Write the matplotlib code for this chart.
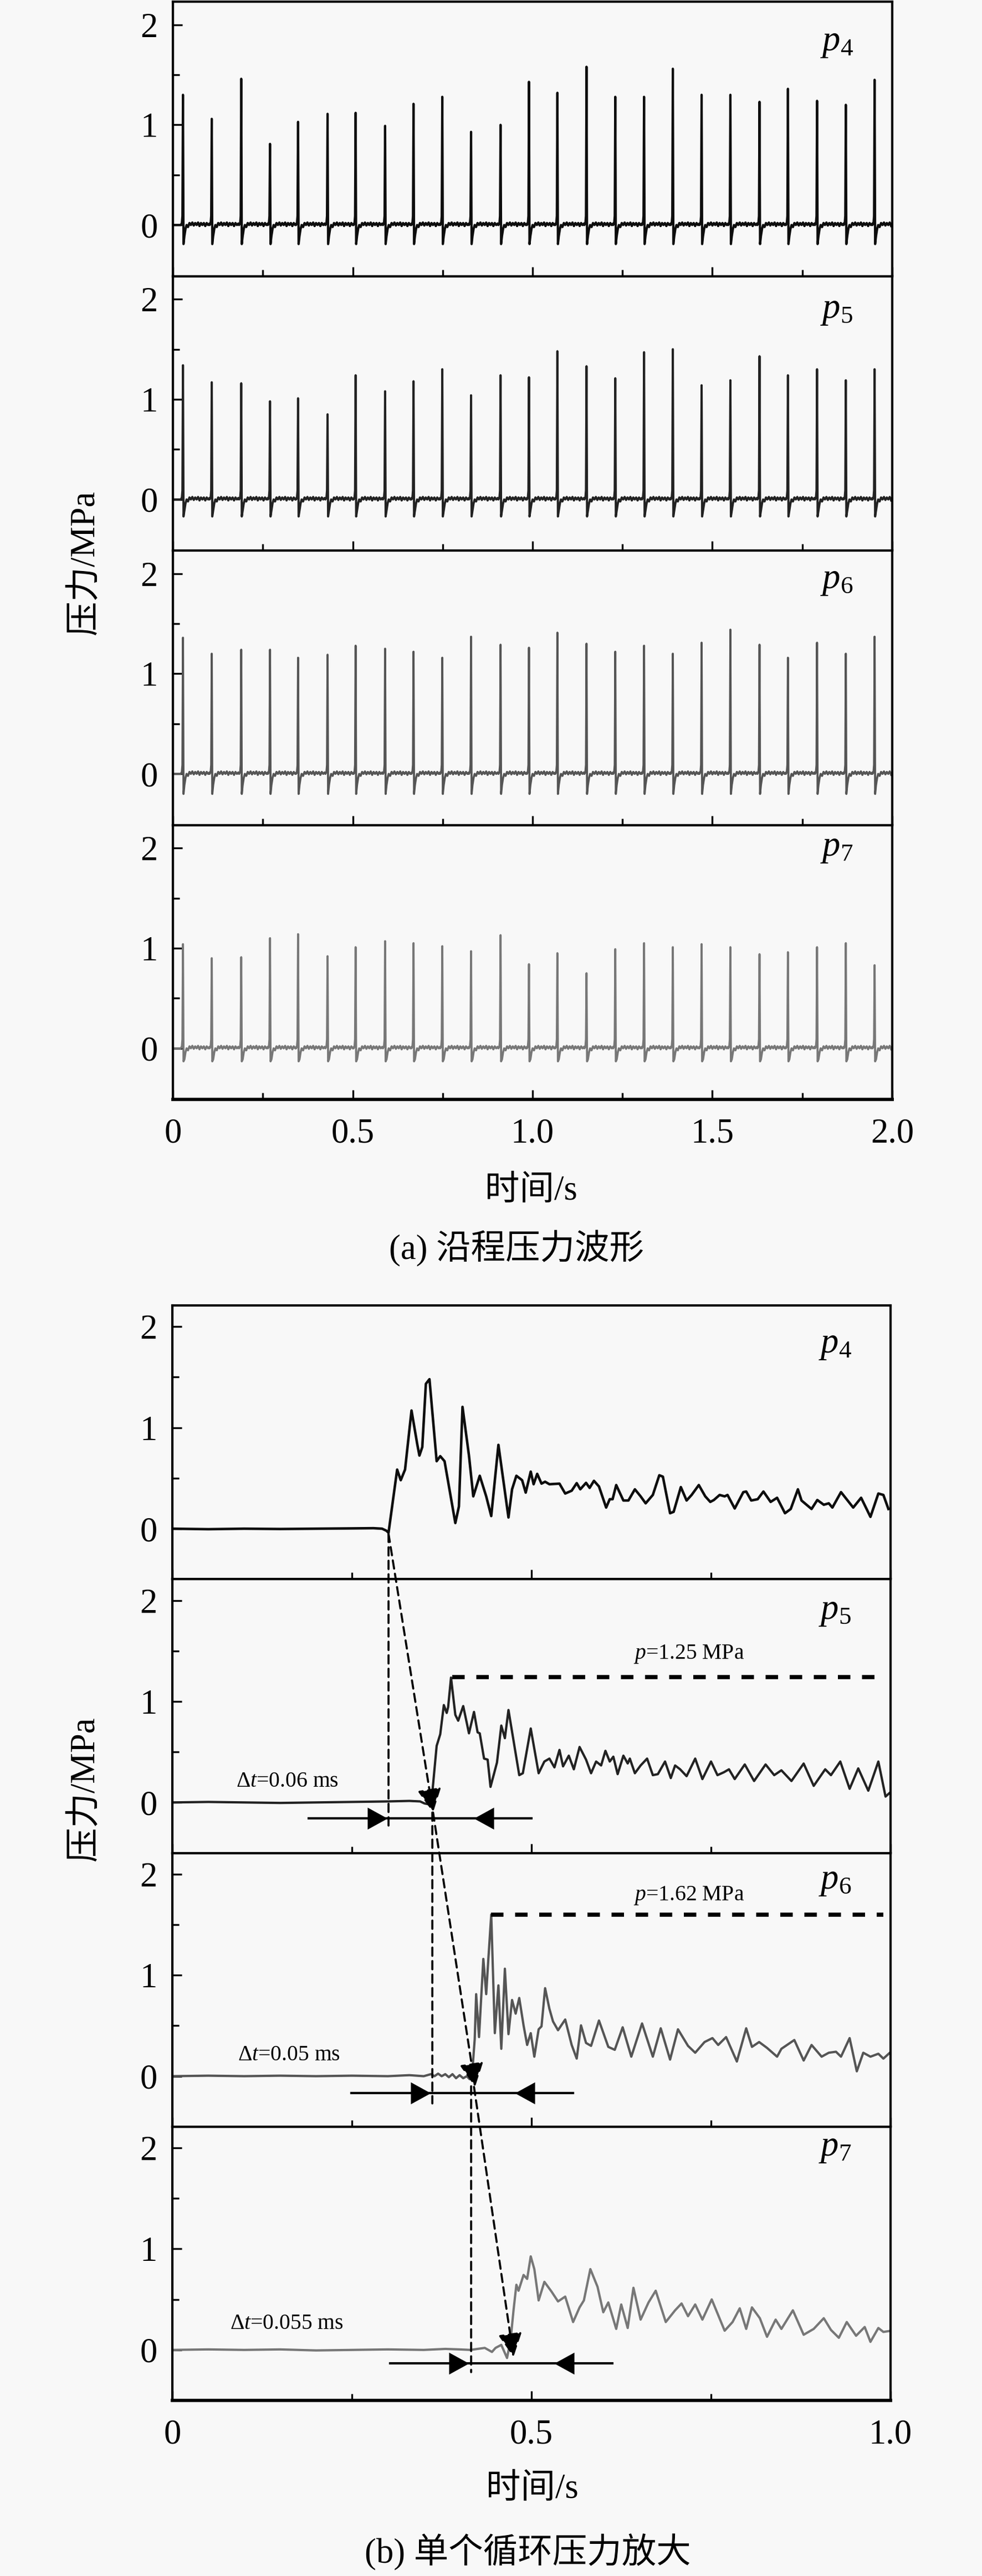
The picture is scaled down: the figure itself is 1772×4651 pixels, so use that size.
import matplotlib
matplotlib.use('Agg')
import matplotlib.pyplot as plt
from matplotlib.patches import ConnectionPatch
from matplotlib.path import Path
from matplotlib.ticker import MultipleLocator, FixedLocator, FuncFormatter

plt.rcParams['font.family'] = ['Liberation Serif', 'Noto Sans CJK SC']
plt.rcParams['mathtext.fontset'] = 'custom'
plt.rcParams['mathtext.rm'] = 'Liberation Serif'
plt.rcParams['mathtext.it'] = 'Liberation Serif:italic'

############################################################
# (a) pressure along the pipe, 0-2 s
############################################################
spike_times = [0.028, 0.108, 0.190, 0.270, 0.348, 0.430, 0.508, 0.590, 0.669,
               0.749, 0.829, 0.911, 0.990, 1.069, 1.150, 1.230, 1.310, 1.390,
               1.470, 1.550, 1.631, 1.710, 1.791, 1.871, 1.951]

h_p4 = [1.30, 1.06, 1.46, 0.81, 1.03, 1.11, 1.12, 0.99, 1.21, 1.28, 0.93, 1.00,
        1.43, 1.32, 1.58, 1.28, 1.28, 1.56, 1.30, 1.30, 1.23, 1.36, 1.24, 1.20, 1.45]
h_p5 = [1.34, 1.17, 1.16, 0.98, 1.01, 0.85, 1.24, 1.08, 1.18, 1.30, 1.04, 1.24,
        1.22, 1.48, 1.33, 1.21, 1.47, 1.50, 1.14, 1.19, 1.43, 1.24, 1.30, 1.19, 1.30]
h_p6 = [1.36, 1.20, 1.24, 1.24, 1.16, 1.19, 1.28, 1.25, 1.22, 1.16, 1.37, 1.29,
        1.26, 1.41, 1.30, 1.22, 1.28, 1.20, 1.31, 1.44, 1.29, 1.16, 1.31, 1.20, 1.37]
h_p7 = [1.04, 0.90, 0.91, 1.10, 1.14, 0.92, 1.01, 1.07, 1.05, 1.02, 0.97, 1.13,
        0.84, 0.95, 0.75, 0.99, 1.05, 1.01, 1.04, 1.01, 0.94, 0.96, 1.01, 1.05, 0.83]
dips = [-0.19, -0.17, -0.20, -0.13]

# one cycle (time after spike, value); None = spike top, 'dip' = undershoot
pulse_dt = [-0.006, -0.003, -0.0015, 0.0, 0.0015, 0.004, 0.007, 0.010, 0.014, 0.018,
            0.022, 0.026, 0.030, 0.034, 0.038, 0.042, 0.046, 0.050, 0.054, 0.058,
            0.062, 0.066, 0.070, 0.074]
pulse_val = [0.0, 0.02, 0.09, None, 'dip', -0.11, -0.04, 0.0, -0.02, 0.02,
             0.0, 0.025, -0.005, 0.02, 0.0, 0.025, -0.01, 0.02, 0.0, 0.02,
             -0.01, 0.02, 0.0, 0.015]

############################################################
# (b) one cycle zoomed, 0-1 s
############################################################
b_p4 = [(0.0, 0.0), (0.05, -0.005), (0.10, 0.0), (0.15, -0.003), (0.20, 0.0), (0.25, 0.003),
        (0.28, 0.005), (0.292, 0.0), (0.298, -0.02), (0.301, -0.04), (0.313, 0.585), (0.318, 0.48),
        (0.324, 0.585), (0.333, 1.17), (0.341, 0.836), (0.344, 0.724), (0.348, 0.808), (0.353, 1.434),
        (0.358, 1.48), (0.368, 0.668), (0.373, 0.718), (0.379, 0.668), (0.394, 0.056), (0.399, 0.22),
        (0.404, 1.206), (0.413, 0.724), (0.419, 0.32), (0.428, 0.524), (0.437, 0.32), (0.444, 0.125),
        (0.454, 0.83), (0.468, 0.111), (0.473, 0.39), (0.479, 0.524), (0.487, 0.48), (0.492, 0.357),
        (0.499, 0.565), (0.503, 0.44), (0.508, 0.543), (0.514, 0.446), (0.519, 0.465), (0.525, 0.44),
        (0.539, 0.446), (0.547, 0.348), (0.556, 0.376), (0.563, 0.451), (0.568, 0.39), (0.576, 0.454),
        (0.581, 0.404), (0.587, 0.474), (0.594, 0.418), (0.604, 0.209), (0.609, 0.292), (0.613, 0.292),
        (0.618, 0.432), (0.628, 0.279), (0.635, 0.279), (0.644, 0.39), (0.652, 0.32), (0.659, 0.251),
        (0.669, 0.334), (0.678, 0.529), (0.683, 0.515), (0.693, 0.153), (0.698, 0.167), (0.708, 0.412),
        (0.716, 0.279), (0.723, 0.334), (0.733, 0.432), (0.742, 0.32), (0.749, 0.265), (0.754, 0.284),
        (0.762, 0.334), (0.769, 0.32), (0.773, 0.334), (0.783, 0.2), (0.795, 0.362), (0.799, 0.368),
        (0.806, 0.279), (0.815, 0.292), (0.823, 0.368), (0.833, 0.265), (0.842, 0.306), (0.853, 0.153),
        (0.861, 0.195), (0.871, 0.39), (0.876, 0.279), (0.89, 0.195), (0.898, 0.284), (0.907, 0.237),
        (0.914, 0.251), (0.919, 0.209), (0.931, 0.362), (0.948, 0.209), (0.959, 0.306), (0.972, 0.117),
        (0.983, 0.348), (0.99, 0.334), (0.997, 0.195)]

b_p5 = [(0.0, 0.0), (0.05, 0.005), (0.1, 0.0), (0.15, -0.005), (0.2, 0.0), (0.25, 0.005),
        (0.3, 0.01), (0.33, 0.015), (0.345, 0.01), (0.351, -0.01), (0.358, -0.02), (0.362, 0.1),
        (0.368, 0.56), (0.373, 0.675), (0.378, 0.964), (0.382, 0.886), (0.384, 0.944), (0.388, 1.236),
        (0.394, 0.867), (0.398, 0.809), (0.405, 0.954), (0.413, 0.684), (0.42, 0.896), (0.425, 0.694),
        (0.428, 0.684), (0.434, 0.434), (0.439, 0.424), (0.443, 0.154), (0.452, 0.395), (0.458, 0.761),
        (0.463, 0.636), (0.468, 0.915), (0.483, 0.27), (0.488, 0.289), (0.499, 0.732), (0.51, 0.289),
        (0.518, 0.405), (0.525, 0.434), (0.532, 0.347), (0.539, 0.52), (0.544, 0.357), (0.552, 0.463),
        (0.559, 0.328), (0.567, 0.549), (0.576, 0.424), (0.583, 0.289), (0.59, 0.405), (0.597, 0.366),
        (0.603, 0.511), (0.609, 0.405), (0.614, 0.453), (0.62, 0.28), (0.628, 0.463), (0.634, 0.386),
        (0.637, 0.434), (0.644, 0.289), (0.652, 0.366), (0.661, 0.434), (0.669, 0.27), (0.676, 0.28),
        (0.686, 0.405), (0.694, 0.241), (0.7, 0.366), (0.707, 0.328), (0.716, 0.26), (0.728, 0.434),
        (0.738, 0.231), (0.75, 0.405), (0.759, 0.27), (0.768, 0.299), (0.775, 0.328), (0.783, 0.231),
        (0.797, 0.376), (0.81, 0.212), (0.826, 0.376), (0.838, 0.27), (0.848, 0.318), (0.862, 0.212),
        (0.879, 0.385), (0.893, 0.164), (0.909, 0.328), (0.917, 0.27), (0.93, 0.405), (0.943, 0.135),
        (0.955, 0.337), (0.969, 0.116), (0.983, 0.405), (0.993, 0.058), (0.999, 0.096)]

b_p6 = [(0.0, 0.0), (0.05, 0.005), (0.1, 0.0), (0.15, 0.005), (0.2, 0.0), (0.25, 0.005),
        (0.3, 0.0), (0.33, 0.01), (0.35, 0.0), (0.355, 0.01), (0.36, 0.02), (0.365, 0.0),
        (0.37, 0.025), (0.375, 0.0), (0.38, 0.02), (0.385, -0.01), (0.39, 0.02), (0.395, -0.02),
        (0.4, 0.01), (0.405, -0.02), (0.41, 0.0), (0.414, -0.03), (0.418, 0.077), (0.421, 0.367),
        (0.423, 0.812), (0.427, 0.387), (0.433, 1.161), (0.437, 0.812), (0.44, 1.161), (0.444, 1.6),
        (0.449, 0.426), (0.454, 0.899), (0.458, 0.271), (0.463, 1.064), (0.468, 0.416), (0.473, 0.754),
        (0.478, 0.619), (0.483, 0.774), (0.489, 0.503), (0.494, 0.309), (0.499, 0.426), (0.504, 0.193),
        (0.51, 0.464), (0.514, 0.493), (0.519, 0.871), (0.525, 0.667), (0.53, 0.542), (0.537, 0.455),
        (0.547, 0.561), (0.556, 0.309), (0.563, 0.174), (0.569, 0.503), (0.576, 0.329), (0.583, 0.3),
        (0.594, 0.551), (0.607, 0.29), (0.616, 0.261), (0.627, 0.484), (0.639, 0.193), (0.654, 0.522),
        (0.669, 0.193), (0.68, 0.474), (0.693, 0.164), (0.704, 0.464), (0.718, 0.3), (0.728, 0.232),
        (0.741, 0.338), (0.752, 0.377), (0.76, 0.309), (0.771, 0.387), (0.786, 0.145), (0.799, 0.474),
        (0.807, 0.29), (0.817, 0.338), (0.828, 0.28), (0.842, 0.193), (0.848, 0.271), (0.866, 0.358),
        (0.879, 0.155), (0.89, 0.309), (0.904, 0.193), (0.914, 0.232), (0.924, 0.242), (0.931, 0.193),
        (0.943, 0.377), (0.953, 0.048), (0.962, 0.232), (0.972, 0.193), (0.983, 0.222), (0.99, 0.174),
        (0.999, 0.232)]

b_p7 = [(0.0, 0.0), (0.05, 0.005), (0.1, 0.0), (0.15, 0.005), (0.2, -0.005), (0.25, 0.0),
        (0.3, 0.005), (0.35, 0.0), (0.38, 0.01), (0.4, 0.005), (0.415, 0.0), (0.425, 0.01),
        (0.435, 0.02), (0.44, 0.0), (0.445, -0.02), (0.45, 0.02), (0.458, 0.05), (0.466, -0.08),
        (0.471, 0.1), (0.475, 0.39), (0.479, 0.645), (0.482, 0.586), (0.489, 0.742), (0.494, 0.703),
        (0.499, 0.926), (0.504, 0.8), (0.51, 0.49), (0.518, 0.674), (0.528, 0.577), (0.537, 0.48),
        (0.547, 0.528), (0.558, 0.276), (0.567, 0.421), (0.573, 0.49), (0.582, 0.8), (0.592, 0.625),
        (0.6, 0.373), (0.607, 0.47), (0.618, 0.208), (0.625, 0.45), (0.634, 0.217), (0.642, 0.615),
        (0.652, 0.3), (0.663, 0.47), (0.673, 0.586), (0.687, 0.276), (0.7, 0.392), (0.709, 0.46),
        (0.718, 0.334), (0.728, 0.45), (0.738, 0.3), (0.751, 0.5), (0.769, 0.19), (0.78, 0.276),
        (0.79, 0.412), (0.799, 0.208), (0.807, 0.421), (0.818, 0.314), (0.828, 0.13), (0.84, 0.3),
        (0.848, 0.208), (0.864, 0.392), (0.879, 0.15), (0.893, 0.208), (0.907, 0.314), (0.917, 0.198),
        (0.928, 0.12), (0.939, 0.276), (0.952, 0.14), (0.964, 0.227), (0.972, 0.08), (0.983, 0.217),
        (0.99, 0.178), (0.999, 0.188)]

# peak level lines in (b)
level_vals = [1.24, 1.60]
level_x0 = [0.39, 0.444]
level_x1 = [0.983, 0.99]
level_text = ['$p$=1.25 MPa', '$p$=1.62 MPa']
level_text_xy = [(0.719, 1.47), (0.719, 1.79)]

# delay markers in (b): p4->p5, p5->p6, p6->p7
dt_text = [r'$\Delta t$=0.06 ms', r'$\Delta t$=0.05 ms', r'$\Delta t$=0.055 ms']
dt_text_xy = [(0.089, 0.21), (0.091, 0.21), (0.080, 0.26)]
row_y = [-0.155, -0.165, -0.132]
row_x0 = [0.19, 0.249, 0.303]
row_x1 = [0.50, 0.558, 0.613]
row_tip_r = [0.2996, 0.3595, 0.413]
row_tip_l = [0.42, 0.4766, 0.532]
link_start = [(0.301, -0.05), (0.363, -0.10), (0.420, -0.106)]
link_tip = [(0.363, -0.10), (0.4215, -0.106), (0.475, -0.07)]
vert_x = [0.301, 0.362, 0.416]
vert_y0 = [-0.05, -0.10, -0.10]
vert_y1 = [-0.24, -0.27, -0.22]

names = ['$p_4$', '$p_5$', '$p_6$', '$p_7$']
name_y = [1.82, 1.89, 1.93, 2.0]
colors = ['#0d0d0d', '#222222', '#555555', '#777777']
bg = '#f8f8f8'

W, H = 1772, 4651
fig = plt.figure(figsize=(W / 300, H / 300), dpi=300, facecolor=bg)


def style(ax, xmax, last):
    ax.set_facecolor(bg)
    ax.set_xlim(0, xmax)
    ax.xaxis.set_major_locator(MultipleLocator(0.5))
    ax.xaxis.set_minor_locator(MultipleLocator(0.25))
    ax.yaxis.set_major_locator(FixedLocator([0, 1, 2]))
    ax.yaxis.set_minor_locator(FixedLocator([0.5, 1.5]))
    ax.xaxis.set_major_formatter(FuncFormatter(lambda v, p: '0' if v == 0 else '%.1f' % v))
    ax.yaxis.set_major_formatter(FuncFormatter(lambda v, p: '%d' % v))
    ax.tick_params(which='both', direction='in', top=False, right=False, width=0.8)
    ax.tick_params(which='major', length=4, labelsize=15)
    ax.tick_params(which='minor', length=2.8)
    ax.tick_params(axis='y', pad=6.5)
    ax.tick_params(axis='x', pad=8)
    for s in ax.spines.values():
        s.set_linewidth(1.0)
    if last:
        ax.spines['bottom'].set_linewidth(1.4)
    else:
        ax.tick_params(labelbottom=False)


def pulse_train(heights, dip):
    t, v = [0.0], [0.0]
    for t0, h in zip(spike_times, heights):
        for dt, val in zip(pulse_dt, pulse_val):
            if val is None:
                val = h
            elif val == 'dip':
                val = dip
            if 0 <= t0 + dt <= 2.0:
                t.append(t0 + dt)
                v.append(val)
    return t, v


# ---- (a) ----
top_heights = [h_p4, h_p5, h_p6, h_p7]
top_lw = [1.0, 0.95, 0.9, 0.9]
ph = 495.5
for i in range(4):
    top = 3 + i * ph
    ax = fig.add_axes([312 / W, 1 - (top + ph) / H, 1298 / W, ph / H])
    t, v = pulse_train(top_heights[i], dips[i])
    ax.plot(t, v, color=colors[i], lw=top_lw[i])
    ax.set_ylim(-0.51, 2.23)
    style(ax, 2.0, i == 3)
    ax.text(1.80, name_y[i], names[i], fontsize=15.5, ha='left', va='center')

fig.text(154 / W, 1 - 1016 / H, '压力/MPa', rotation=90, ha='center', va='center', fontsize=15)
fig.text(958 / W, 1 - 2151 / H, '时间/s', ha='center', va='center', fontsize=15)
fig.text(932 / W, 1 - 2254 / H, '(a) 沿程压力波形', ha='center', va='center', fontsize=15)

# ---- (b) ----
b_series = [b_p4, b_p5, b_p6, b_p7]
b_lw = [1.1, 1.0, 1.0, 1.0]
ph = 494.25
axes_b = []
for i in range(4):
    top = 2357 + i * ph
    ax = fig.add_axes([311 / W, 1 - (top + ph) / H, 1296 / W, ph / H])
    ax.plot([p[0] for p in b_series[i]], [p[1] for p in b_series[i]], color=colors[i], lw=b_lw[i])
    ax.set_ylim(-0.5, 2.21)
    style(ax, 1.0, i == 3)
    ax.text(0.90, name_y[i], names[i], fontsize=15.5, ha='left', va='center')
    axes_b.append(ax)

for k in range(2):
    ax = axes_b[k + 1]
    ax.plot([level_x0[k], level_x1[k]], [level_vals[k]] * 2, color='k', lw=1.8,
            dashes=(3.0, 2.8))
    ax.text(level_text_xy[k][0], level_text_xy[k][1], level_text[k], fontsize=9.5,
            ha='center', va='center')

tri_r = Path([(0, 0), (-1, 0.55), (-1, -0.55), (0, 0)], closed=True)
tri_l = Path([(0, 0), (1, 0.55), (1, -0.55), (0, 0)], closed=True)
for k in range(3):
    ax = axes_b[k + 1]
    ax.text(dt_text_xy[k][0], dt_text_xy[k][1], dt_text[k], fontsize=9.5, ha='left', va='center')
    ax.plot([row_x0[k], row_x1[k]], [row_y[k]] * 2, color='k', lw=1.0)
    ax.plot([row_tip_r[k]], [row_y[k]], marker=tri_r, ms=17.3, color='k', mew=0)
    ax.plot([row_tip_l[k]], [row_y[k]], marker=tri_l, ms=17.3, color='k', mew=0)

    # vertical dashed guide from the panel above
    vl = ConnectionPatch(xyA=(vert_x[k], vert_y0[k]), coordsA=axes_b[k].transData,
                         xyB=(vert_x[k], vert_y1[k]), coordsB=ax.transData,
                         arrowstyle='-', lw=0.9, ls=(0, (4, 2.5)), color='k',
                         shrinkA=0, shrinkB=0, zorder=5)
    fig.add_artist(vl)
    # slanted dashed arrow to the arrival point
    sl = ConnectionPatch(xyA=link_start[k], coordsA=axes_b[k].transData,
                         xyB=link_tip[k], coordsB=ax.transData,
                         arrowstyle='-|>', mutation_scale=22, lw=0.9, ls=(0, (4, 2.5)),
                         color='k', fc='k', shrinkA=0, shrinkB=0, zorder=5)
    fig.add_artist(sl)

fig.text(154 / W, 1 - 3230 / H, '压力/MPa', rotation=90, ha='center', va='center', fontsize=15)
fig.text(960 / W, 1 - 4495 / H, '时间/s', ha='center', va='center', fontsize=15)
fig.text(952 / W, 1 - 4608 / H, '(b) 单个循环压力放大', ha='center', va='center', fontsize=15)

fig.savefig('out.png', dpi=300, facecolor=bg)
